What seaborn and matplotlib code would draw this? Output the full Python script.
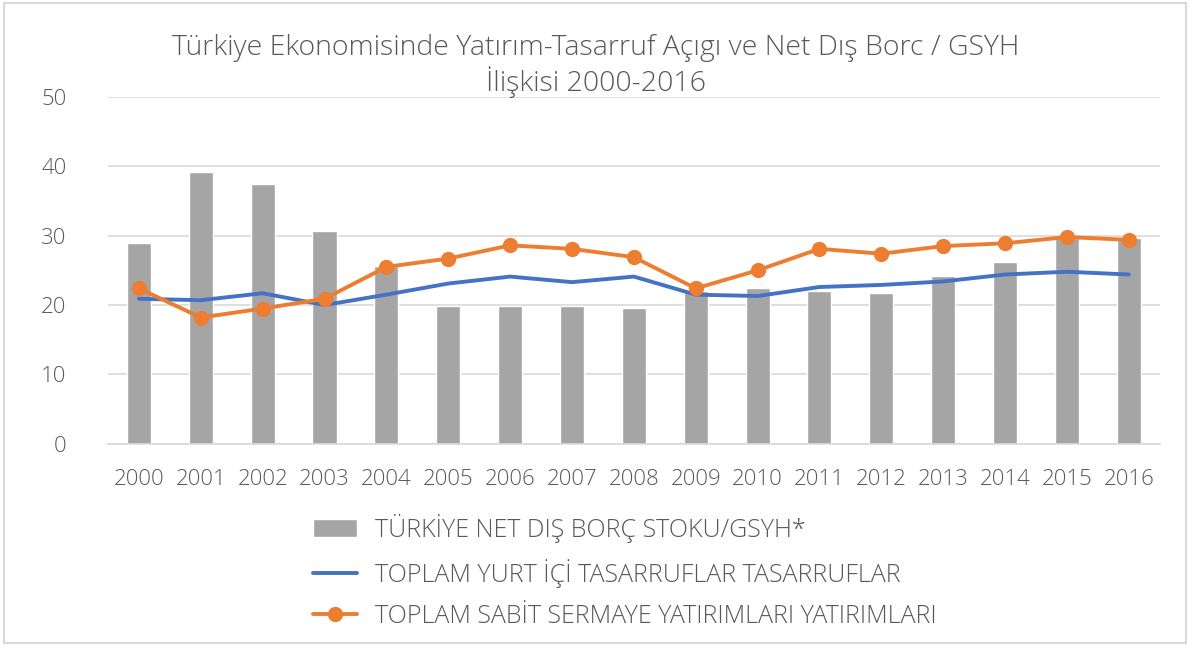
import numpy as np
import pandas as pd
import matplotlib
matplotlib.use("Agg")
import matplotlib.pyplot as plt
from matplotlib.patches import Rectangle
import seaborn as sns

years = [str(y) for y in range(2000, 2017)]
net_dis_borc = [29.0, 39.2, 37.5, 30.6, 25.6, 19.8, 19.8, 19.8, 19.6, 22.0,
                22.4, 22.0, 21.8, 24.2, 26.2, 29.7, 29.6]
yurt_ici_tasarruf = [20.9, 20.7, 21.7, 20.0, 21.5, 23.1, 24.1, 23.3, 24.1, 21.5,
                     21.3, 22.6, 22.9, 23.4, 24.4, 24.8, 24.4]
sabit_yatirim = [22.4, 18.2, 19.5, 20.9, 25.5, 26.7, 28.6, 28.1, 26.9, 22.4,
                 25.0, 28.1, 27.4, 28.5, 28.9, 29.8, 29.4]
y_ticks = [0, 10, 20, 30, 40, 50]

label_bar = "TÜRKİYE NET DIŞ BORÇ STOKU/GSYH*"
label_blue = "TOPLAM YURT İÇİ TASARRUFLAR TASARRUFLAR"
label_orange = "TOPLAM SABİT SERMAYE YATIRIMLARI YATIRIMLARI"
title = "Türkiye Ekonomisinde Yatırım-Tasarruf Açıgı ve Net Dış Borc / GSYH\nİlişkisi 2000-2016"

df = pd.DataFrame({
    "yil": years,
    "pos": np.arange(len(years)),
    "borc": net_dis_borc,
    "tasarruf": yurt_ici_tasarruf,
    "yatirim": sabit_yatirim,
})

sns.set_theme(style="white")
plt.rcParams["font.family"] = ["Open Sans", "DejaVu Sans"]
plt.rcParams["font.weight"] = "light"
text_color = "#595959"

fig = plt.figure(figsize=(11.91, 6.46), dpi=100)
ax = fig.add_axes([0.0907, 0.313, 0.883, 0.537])

sns.barplot(data=df, x="yil", y="borc", color="#A5A5A5", width=0.39,
            saturation=1, ax=ax, label=label_bar, zorder=2)
sns.lineplot(data=df, x="pos", y="tasarruf", color="#4472C4", linewidth=2.8,
             ax=ax, label=label_blue, zorder=3)
sns.lineplot(data=df, x="pos", y="yatirim", color="#ED7D31", linewidth=2.8,
             marker="o", markersize=11, markeredgewidth=0, ax=ax,
             label=label_orange, zorder=4)

ax.set_xlim(-0.5, len(years) - 0.5)
ax.set_ylim(0, 50)
ax.set_yticks(y_ticks)
ax.set_xticks(np.arange(len(years)))
ax.set_xticklabels(years)
ax.set_xlabel("")
ax.set_ylabel("")
ax.yaxis.grid(True, color="#D9D9D9", linewidth=1.2, zorder=0)
ax.set_axisbelow(True)
for side in ["top", "right", "left"]:
    ax.spines[side].set_visible(False)
ax.spines["bottom"].set_color("#D9D9D9")
ax.spines["bottom"].set_linewidth(1.2)
ax.tick_params(axis="both", length=0, labelsize=16, colors=text_color)
ax.tick_params(axis="y", pad=30)
ax.tick_params(axis="x", pad=18)

fig.text(0.5, 0.948, title, ha="center", va="top", fontsize=20.5,
         color=text_color, linespacing=1.2)

handles, labels = ax.get_legend_handles_labels()
ax.get_legend().remove()
order = [labels.index(label_bar), labels.index(label_blue), labels.index(label_orange)]
leg = fig.legend([handles[i] for i in order], [labels[i] for i in order],
                 loc="upper left", bbox_to_anchor=(0.263, 0.205),
                 frameon=False, fontsize=18, handlelength=1.75,
                 handletextpad=0.72, labelspacing=0.64,
                 labelcolor=text_color, borderpad=0, borderaxespad=0)

fig.patches.append(Rectangle((0.003, 0.004), 0.993, 0.991,
                             transform=fig.transFigure, fill=False,
                             edgecolor="#D9D9D9", linewidth=1.5))

fig.savefig("out.png", dpi=100, facecolor="white")
